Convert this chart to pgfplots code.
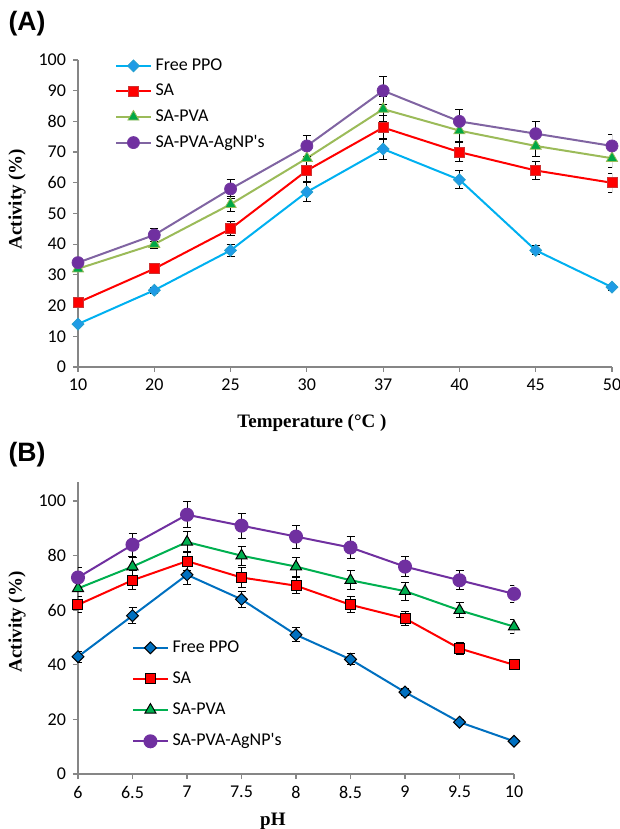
\documentclass[border=0pt]{standalone}
\usepackage{fontspec}
\setmainfont{Carlito}
\newfontfamily\calfont{Carlito}
\newfontfamily\labelfont{Liberation Serif}
\newfontfamily\panelfont{Liberation Sans}
\usepackage{pgfplots}
\usepackage{pgfplotstable}
\pgfplotsset{compat=1.18}

% panel A: temperature, x = category index
\pgfplotstableread{
x ppo eppo sa esa pva epva ag eag
0 14 0.5 21 0.8 32 1.0 34 1.2
1 25 1.0 32 1.2 40 1.5 43 2.0
2 38 2.0 45 2.3 53 2.5 58 3.0
3 57 3.0 64 3.5 68 3.0 72 3.5
4 71 3.5 78 4.0 84 4.0 90 4.6
5 61 3.0 70 3.2 77 3.5 80 4.0
6 38 1.5 64 3.0 72 3.5 76 4.0
7 26 1.0 60 3.0 68 3.0 72 3.6
}\tempdata

% panel B: pH
\pgfplotstableread{
x ppo eppo sa esa pva epva ag eag
6.0 43 2.0 62 3.0 68 3.0 72 3.6
6.5 58 3.0 71 3.5 76 3.5 84 4.3
7.0 73 3.5 78 3.5 85 4.0 95 4.7
7.5 64 3.0 72 3.5 80 3.5 91 4.6
8.0 51 2.5 69 3.0 76 3.5 87 4.2
8.5 42 2.0 62 2.9 71 3.5 83 4.2
9.0 30 1.2 57 2.7 67 3.3 76 3.6
9.5 19 0.8 46 2.1 60 2.7 71 3.5
10.0 12 0.5 40 1.5 54 2.6 66 3.1
}\phdata

\definecolor{excelgray}{HTML}{868686}
\definecolor{cyanA}{HTML}{00B0F0}
\definecolor{cyanmark}{HTML}{1F9BE6}
\definecolor{olive}{HTML}{9BBB59}
\definecolor{greenmark}{HTML}{00A846}
\definecolor{lavender}{HTML}{8064A2}
\definecolor{purp}{HTML}{7030A0}
\definecolor{blueB}{HTML}{0070C0}
\definecolor{greenB}{HTML}{00B050}

\pgfplotsset{
  excel/.style={
    scale only axis,
    axis x line*=bottom, axis y line*=left,
    axis line style={excelgray, line width=0.6pt, -},
    tick style={excelgray, line width=0.6pt},
    tick align=outside,
    major tick length=2.5pt,
    /pgf/number format/assume math mode=true,
    ticklabel style={font=\calfont\fontsize{9}{10}\selectfont},
    label style={font=\labelfont\bfseries\fontsize{9.5}{11}\selectfont},
    legend cell align=left,
    legend style={draw=none, fill=none, font=\calfont\fontsize{9}{10}\selectfont},
    every axis plot/.append style={line width=1pt},
    error bars/y dir=both, error bars/y explicit,
    error bars/error bar style={black, line width=0.5pt},
    error bars/error mark options={black, rotate=90, mark size=2pt, line width=0.5pt},
  },
}

\begin{document}
\begin{tikzpicture}
\useasboundingbox (0,0) rectangle (310pt,414.5pt);

\node[font=\panelfont\bfseries\fontsize{13.3}{14}\selectfont] at (13.5pt,402.5pt) {(A)};
\node[font=\panelfont\bfseries\fontsize{13.3}{14}\selectfont] at (13.5pt,187pt) {(B)};

\begin{axis}[excel,
  at={(39pt,231pt)}, anchor=south west,
  width=267pt, height=153.5pt,
  xmin=0, xmax=7, ymin=0, ymax=100,
  xtick={0,...,7}, xticklabels={10,20,25,30,37,40,45,50},
  ytick={0,10,...,100},
  xlabel={Temperature (°C )}, ylabel={Activity (\%)},
  xlabel style={at={(axis description cs:0.438,-0.182)}, anchor=center},
  ylabel style={at={(axis description cs:-0.114,0.547)}, anchor=center},
  legend style={at={(axis description cs:0.058,1.032)}, anchor=north west, row sep=1.4pt},
]
\addplot[cyanA, mark=square*, mark size=2.1pt, mark options={rotate=45, fill=cyanmark, draw=cyanA!70!gray, line width=0.4pt}]
  table[x=x, y=ppo, y error=eppo] {\tempdata};
\addlegendentry{Free PPO}
\addplot[red, mark=square*, mark size=2.5pt, mark options={fill=red, draw=red!60!gray, line width=0.4pt}]
  table[x=x, y=sa, y error=esa] {\tempdata};
\addlegendentry{SA}
\addplot[olive, mark=triangle*, mark size=3.2pt, mark options={fill=greenmark, draw=olive, line width=0.4pt}]
  table[x=x, y=pva, y error=epva] {\tempdata};
\addlegendentry{SA-PVA}
\addplot[lavender, mark=*, mark size=3pt, mark options={fill=purp, draw=purp!80!lavender, line width=0.4pt}]
  table[x=x, y=ag, y error=eag] {\tempdata};
\addlegendentry{SA-PVA-AgNP's}
\end{axis}

\begin{axis}[excel,
  at={(39pt,27.5pt)}, anchor=south west,
  width=218pt, height=146pt,
  xmin=6, xmax=10, ymin=0, ymax=107,
  xtick={6,6.5,...,10}, ytick={0,20,...,100},
  xticklabels={6,6.5,7,7.5,8,8.5,9,9.5,10},
  xlabel={pH}, ylabel={Activity (\%)},
  xlabel style={at={(axis description cs:0.447,-0.161)}, anchor=center},
  ylabel style={at={(axis description cs:-0.140,0.521)}, anchor=center},
  legend style={at={(axis description cs:0.11,0.486)}, anchor=north west, row sep=4.2pt},
]
\addplot[blueB, mark=square*, mark size=2.1pt, mark options={rotate=45, fill=blueB, draw=black, line width=0.5pt}]
  table[x=x, y=ppo, y error=eppo] {\phdata};
\addlegendentry{Free PPO}
\addplot[red, mark=square*, mark size=2.5pt, mark options={fill=red, draw=black, line width=0.5pt}]
  table[x=x, y=sa, y error=esa] {\phdata};
\addlegendentry{SA}
\addplot[greenB, mark=triangle*, mark size=3.2pt, mark options={fill=greenB, draw=black, line width=0.5pt}]
  table[x=x, y=pva, y error=epva] {\phdata};
\addlegendentry{SA-PVA}
\addplot[purp, mark=*, mark size=3pt, mark options={fill=purp, draw=purp}]
  table[x=x, y=ag, y error=eag] {\phdata};
\addlegendentry{SA-PVA-AgNP's}
\end{axis}
\end{tikzpicture}
\end{document}
